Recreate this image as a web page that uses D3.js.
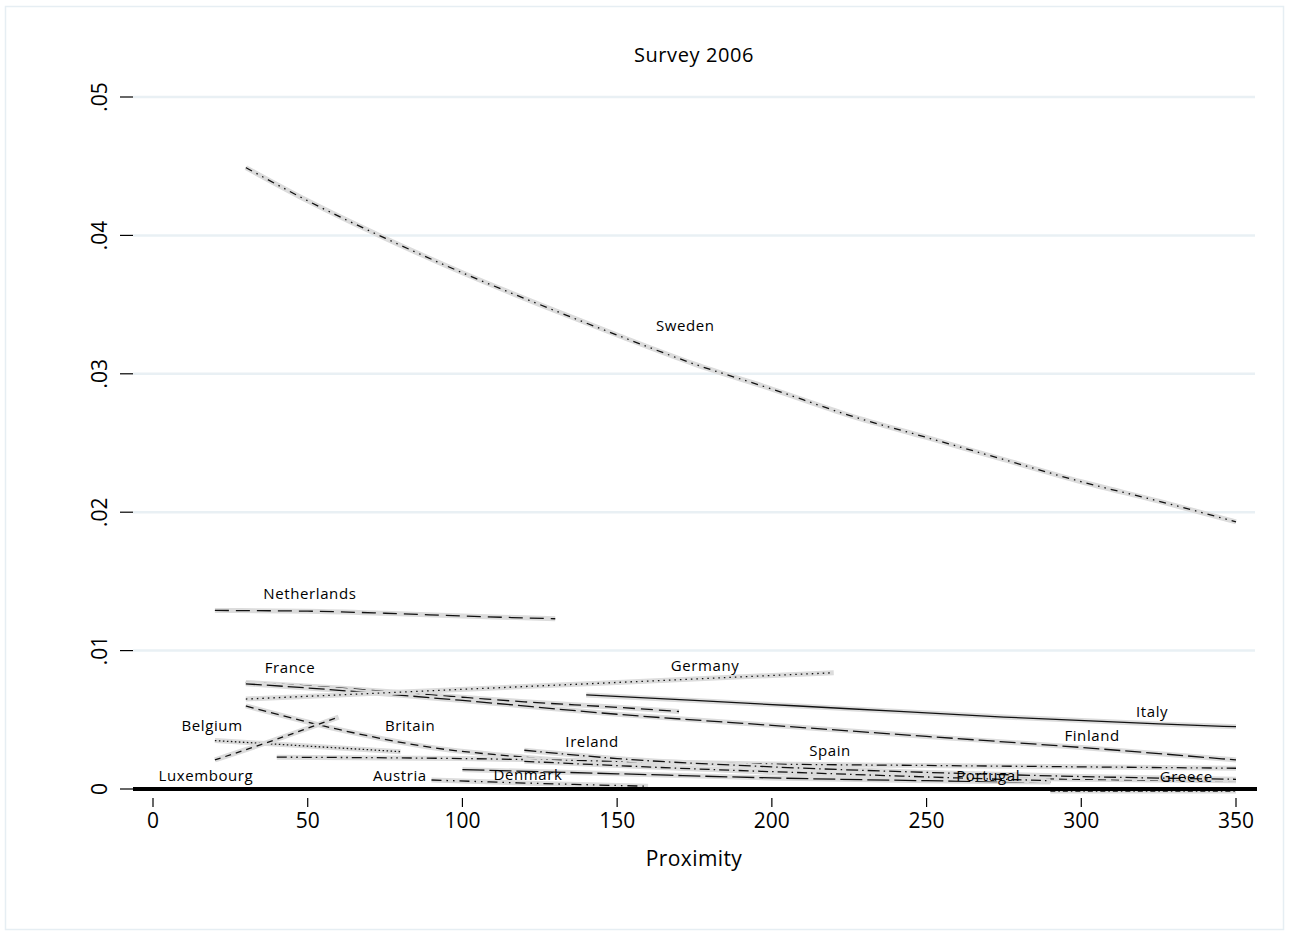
<!DOCTYPE html>
<html>
<head>
<meta charset="utf-8">
<script src="https://cdn.jsdelivr.net/npm/d3@7"></script>
<style>
  html, body { margin: 0; padding: 0; background: #fff; }
  svg { display: block; font-family: "Open Sans", sans-serif; }
</style>
</head>
<body>
<svg id="chart" width="1290" height="936"></svg>
<script>
// fitted curves, [proximity, predicted value]
const sweden = [[30, .0449], [50, .0425], [75, .0398], [100, .0373], [125, .0350], [150, .0328], [175, .0307],
  [200, .0289], [225, .0270], [250, .0254], [275, .0238], [300, .0222], [325, .0208], [350, .0193]]
const netherlands = [[20, .0129], [50, .01285], [75, .0127], [100, .0125], [130, .0123]]
const france = [[30, .0077], [60, .0073], [90, .0068], [120, .0063], [150, .0059], [170, .0056]]
const finland = [[30, .0076], [50, .0073], [100, .0064], [150, .0054], [200, .0046], [250, .0038], [300, .0030], [350, .0021]]
const germany = [[30, .0065], [60, .0068], [90, .0071], [120, .0074], [150, .0077], [180, .0080], [220, .0084]]
const italy = [[140, .0068], [175, .0064], [225, .0058], [275, .0052], [325, .0047], [350, .0045]]
const britain = [[30, .0060], [60, .0043], [90, .0030], [120, .0023], [150, .0018], [200, .0012], [250, .0009], [300, .0007], [350, .0006]]
const belgium = [[20, .0035], [50, .0031], [80, .0027]]
const luxembourg = [[20, .0021], [40, .0036], [60, .0052]]
const spain = [[40, .0023], [100, .0022], [150, .0020], [200, .0018], [250, .0017], [300, .0016], [350, .0015]]
const ireland = [[120, .0028], [150, .0022], [200, .0016], [250, .0012], [300, .0009], [350, .0007]]
const austria = [[90, .00065], [125, .0004], [160, .0002]]
const denmark = [[100, .0014], [150, .0011], [200, .0008], [250, .0006], [290, .0005]]
const portugal = [[120, .0020], [170, .0015], [220, .0011], [260, .0008], [290, .0006]]
const greece = [[290, -.00015], [320, -.00015], [350, -.00015]]

const countries = ["Sweden", "Netherlands", "France", "Finland", "Germany", "Italy", "Britain", "Belgium",
  "Luxembourg", "Spain", "Ireland", "Austria", "Denmark", "Portugal", "Greece"]
const seriesValues = [sweden, netherlands, france, finland, germany, italy, britain, belgium,
  luxembourg, spain, ireland, austria, denmark, portugal, greece]
// where each marker label sits, in data units
const labelX = [172, 50.7, 44.3, 303.5, 178.4, 322.9, 83.1, 19.1, 17.1, 218.8, 141.9, 79.8, 121.2, 269.9, 333.9]
const labelY = [.03345, .01409, .00874, .00383, .00889, .00556, .00455, .00455, .00094, .00275, .0034, .00094, .00101, .00094, .00087]

const xTicks = [0, 50, 100, 150, 200, 250, 300, 350]
const yTicks = [0, .01, .02, .03, .04, .05]
const yTickLabels = ["0", ".01", ".02", ".03", ".04", ".05"]

const dashes = {
  Sweden: "7,5,1.5,5,1.5,5",
  Netherlands: "14,7",
  France: "12,6",
  Finland: "16,5",
  Germany: "1.5,4",
  Italy: null,
  Britain: "8,5",
  Belgium: "1.5,2.5",
  Luxembourg: "6,5",
  Spain: "10,4,1.5,4,1.5,4",
  Ireland: "12,4,1.5,4",
  Austria: "10,5,1.5,5,1.5,5",
  Denmark: "22,5",
  Portugal: "10,4,1.5,4",
  Greece: "5,3,1.5,3",
}

const svg = d3.select("#chart")
const W = 1290, H = 936
const plotL = 133, plotR = 1255

const x = d3.scaleLinear().domain([0, 350]).range([153, 1236])
const y = d3.scaleLinear().domain([0, .05]).range([789, 97])

// outer frame
svg.append("rect")
  .attr("x", 5.5).attr("y", 6.5)
  .attr("width", W - 12).attr("height", H - 13)
  .attr("fill", "none")
  .attr("stroke", "#e6eef3")
  .attr("stroke-width", 1.5)

// gridlines
svg.append("g")
  .selectAll("line")
  .data(yTicks.filter((d) => d > 0))
  .join("line")
  .attr("x1", plotL).attr("x2", plotR)
  .attr("y1", (d) => y(d)).attr("y2", (d) => y(d))
  .attr("stroke", "#e9f0f4")
  .attr("stroke-width", 2.5)

// y axis: ticks + rotated labels
const yAxis = svg.append("g")
yAxis.selectAll("line")
  .data(yTicks)
  .join("line")
  .attr("x1", 120).attr("x2", plotL)
  .attr("y1", (d) => y(d)).attr("y2", (d) => y(d))
  .attr("stroke", "#000")
  .attr("stroke-width", 1.2)
yAxis.selectAll("text")
  .data(yTicks)
  .join("text")
  .attr("transform", (d) => `translate(107,${y(d)}) rotate(-90)`)
  .attr("text-anchor", "middle")
  .attr("font-size", 21)
  .attr("fill", "#000")
  .text((d, i) => yTickLabels[i])

// x axis
const xAxis = svg.append("g")
xAxis.selectAll("line")
  .data(xTicks)
  .join("line")
  .attr("x1", (d) => x(d)).attr("x2", (d) => x(d))
  .attr("y1", 798).attr("y2", 807)
  .attr("stroke", "#000")
  .attr("stroke-width", 1.2)
xAxis.selectAll("text")
  .data(xTicks)
  .join("text")
  .attr("x", (d) => x(d))
  .attr("y", 828)
  .attr("text-anchor", "middle")
  .attr("font-size", 21)
  .attr("fill", "#000")
  .text((d) => d)

svg.append("text")
  .attr("x", (plotL + plotR) / 2).attr("y", 866)
  .attr("text-anchor", "middle")
  .attr("font-size", 21)
  .attr("letter-spacing", 0.4)
  .text("Proximity")

svg.append("text")
  .attr("x", (plotL + plotR) / 2).attr("y", 62)
  .attr("text-anchor", "middle")
  .attr("font-size", 20)
  .attr("letter-spacing", 0.6)
  .text("Survey 2006")

const line = d3.line()
  .x((d) => x(d[0]))
  .y((d) => y(d[1]))
  .curve(d3.curveMonotoneX)

const lines = svg.append("g")
countries.forEach((c, i) => {
  const pts = seriesValues[i]
  lines.append("path")
    .attr("d", line(pts))
    .attr("fill", "none")
    .attr("stroke", "#dcdcdc")
    .attr("stroke-width", 5)
  lines.append("path")
    .attr("d", line(pts))
    .attr("fill", "none")
    .attr("stroke", "#111")
    .attr("stroke-width", 1.3)
    .attr("stroke-dasharray", dashes[c])
})

// zero reference line
svg.append("line")
  .attr("x1", plotL).attr("x2", plotR + 2)
  .attr("y1", y(0)).attr("y2", y(0))
  .attr("stroke", "#000")
  .attr("stroke-width", 4)

svg.append("g")
  .selectAll("text")
  .data(countries)
  .join("text")
  .attr("x", (d, i) => x(labelX[i]))
  .attr("y", (d, i) => y(labelY[i]))
  .attr("dy", "0.35em")
  .attr("text-anchor", "middle")
  .attr("font-size", 15)
  .attr("letter-spacing", 0.6)
  .attr("fill", "#000")
  .text((d) => d)
</script>
</body>
</html>
